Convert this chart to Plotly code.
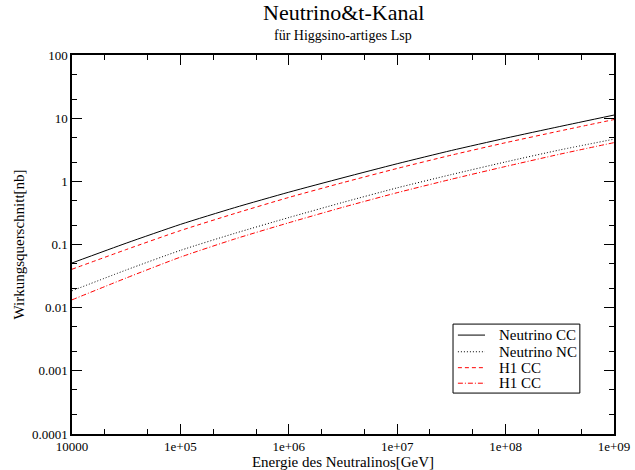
import plotly.graph_objects as go

# Neutrino energy [GeV], half-decade steps
energy = [1e4, 10**4.5, 1e5, 10**5.5, 1e6, 10**6.5, 1e7, 10**7.5, 1e8, 10**8.5, 1e9]

# Cross sections [nb]
nu_cc = [0.051, 0.105, 0.208, 0.383, 0.673, 1.14, 1.90, 3.08, 4.82, 7.38, 11.2]
nu_nc = [0.0185, 0.0395, 0.0807, 0.150, 0.267, 0.465, 0.789, 1.28, 2.03, 3.14, 4.65]
h1_cc_a = [0.0406, 0.0832, 0.166, 0.309, 0.556, 0.955, 1.60, 2.60, 4.09, 6.27, 9.5]
h1_cc_b = [0.0133, 0.0295, 0.0631, 0.122, 0.221, 0.389, 0.661, 1.08, 1.72, 2.69, 4.10]

x_tickvals = [1e4, 1e5, 1e6, 1e7, 1e8, 1e9]
x_ticktext = ["10000", "1e+05", "1e+06", "1e+07", "1e+08", "1e+09"]
y_tickvals = [1e-4, 1e-3, 1e-2, 1e-1, 1, 10, 100]
y_ticktext = ["0.0001", "0.001", "0.01", "0.1", "1", "10", "100"]

FONT = "Liberation Serif"

series = [
    ("Neutrino CC", nu_cc, "black", "solid"),
    ("Neutrino NC", nu_nc, "black", "1px,2px"),
    ("H1 CC", h1_cc_a, "red", "4px,3px"),
    ("H1 CC", h1_cc_b, "red", "5px,2px,1px,2px"),
]

fig = go.Figure()
for name, ys, color, dash in series:
    fig.add_trace(go.Scatter(
        x=energy, y=ys, mode="lines", name=name, showlegend=False,
        line=dict(color=color, dash=dash, width=1, shape="spline", smoothing=0.6),
    ))

tick_font = dict(family=FONT, size=13, color="black")
title_font = dict(family=FONT, size=15, color="black")

axis_common = dict(
    type="log", showgrid=False, zeroline=False, automargin=False,
    showline=True, linecolor="black", linewidth=1.5,
    ticks="inside", ticklen=10, tickwidth=1.2, tickcolor="black",
    mirror="ticks",
    minor=dict(ticks="inside", ticklen=5, tickwidth=1, tickcolor="black"),
    tickfont=tick_font,
)

fig.update_xaxes(
    **axis_common,
    range=[4, 9], tickvals=x_tickvals, ticktext=x_ticktext,
    title=dict(text="Energie des Neutralinos[GeV]", font=title_font, standoff=0),
)
fig.update_yaxes(
    **axis_common,
    range=[-4, 2], tickvals=y_tickvals, ticktext=y_ticktext,
    title=dict(text="Wirkungsquerschnitt[nb]", font=title_font, standoff=4),
)

# Boxed legend in the lower right of the plot area
shapes = [dict(type="rect", xref="paper", yref="paper",
               x0=0.703, x1=0.937, y0=0.108, y1=0.290,
               line=dict(color="black", width=1), fillcolor="white", layer="above")]
annotations = []
row_y = [0.261, 0.217, 0.175, 0.134]
for (name, _, color, dash), ry in zip(series, row_y):
    shapes.append(dict(type="line", xref="paper", yref="paper",
                       x0=0.712, x1=0.762, y0=ry, y1=ry,
                       line=dict(color=color, dash=dash, width=1), layer="above"))
    annotations.append(dict(text=name, xref="paper", yref="paper",
                            x=0.784, y=ry, xanchor="left", yanchor="middle",
                            showarrow=False,
                            font=dict(family=FONT, size=15, color="black")))

annotations += [
    dict(text="Neutrino&t-Kanal", xref="paper", yref="paper",
         x=0.5, y=1.113, xanchor="center", yanchor="middle",
         showarrow=False, font=dict(family=FONT, size=22, color="black")),
    dict(text="für Higgsino-artiges Lsp", xref="paper", yref="paper",
         x=0.5, y=1.052, xanchor="center", yanchor="middle",
         showarrow=False, font=dict(family=FONT, size=14, color="black")),
]

fig.update_layout(
    width=635, height=470,
    margin=dict(l=72, r=21, t=55, b=36),
    paper_bgcolor="white", plot_bgcolor="white",
    font=dict(family=FONT, size=13, color="black"),
    showlegend=False,
    shapes=shapes,
    annotations=annotations,
)

fig.write_html("out.html")
